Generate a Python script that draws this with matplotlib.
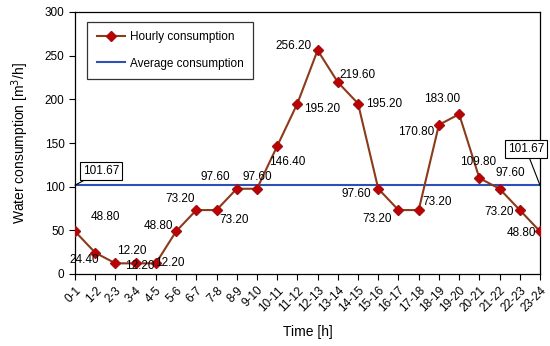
import matplotlib.pyplot as plt

plt.rcParams['font.family'] = ['Liberation Sans', 'DejaVu Sans']
plt.rcParams['font.size'] = 8.5

hours = ['0-1', '1-2', '2-3', '3-4', '4-5', '5-6', '6-7', '7-8', '8-9', '9-10',
         '10-11', '11-12', '12-13', '13-14', '14-15', '15-16', '16-17', '17-18',
         '18-19', '19-20', '20-21', '21-22', '22-23', '23-24']
hourly = [48.80, 24.40, 12.20, 12.20, 12.20, 48.80, 73.20, 73.20, 97.60, 97.60,
          146.40, 195.20, 256.20, 219.60, 195.20, 97.60, 73.20, 73.20,
          170.80, 183.00, 109.80, 97.60, 73.20, 48.80]
average = 101.67

# label offsets in pixels (dx, dy up)
offsets = [(30, 14), (-11, -7), (16, 12), (4, -3), (14, 0), (-18, 5), (-16, 11),
           (18, -10), (-21, 12), (0, 12), (10, -16), (25, -5), (-24, 4), (20, 7),
           (26, 0), (-22, -5), (-21, -9), (18, 8), (-23, -7), (-17, 15), (-1, 16),
           (11, 16), (-21, -2), (-19, -2)]

fig = plt.figure(figsize=(5.5, 3.46), dpi=100)
ax = fig.add_axes([75 / 550, 1 - 274 / 346, 465 / 550, 262 / 346])

x = list(range(len(hours)))
ax.plot(x, hourly, color='#8B3A1A', lw=1.5, marker='D', ms=5.5,
        mfc='#C00000', mec='#A01010', label='Hourly consumption', zorder=3)
ax.plot([0, len(hours) - 1], [average, average], color='#2E4FB5', lw=1.5,
        label='Average consumption', zorder=2)

for i, v in enumerate(hourly):
    dx, dy = offsets[i]
    ax.annotate('%.2f' % v, (i, v), xytext=(dx * 0.72, dy * 0.72),
                textcoords='offset points', ha='center', va='center', zorder=4)

box = dict(boxstyle='square,pad=0.25', fc='white', ec='black', lw=0.8)
ax.annotate('%.2f' % average, (0, average), xytext=(26 * 0.72, 14 * 0.72),
            textcoords='offset points', ha='center', va='center', bbox=box,
            arrowprops=dict(arrowstyle='-', color='black', lw=0.8,
                            shrinkA=0, shrinkB=0))
ax.annotate('%.2f' % average, (len(hours) - 1, average), xytext=(-14 * 0.72, 36 * 0.72),
            textcoords='offset points', ha='center', va='center', bbox=box,
            arrowprops=dict(arrowstyle='-', color='black', lw=0.8,
                            shrinkA=0, shrinkB=0))

ax.set_xlim(0, len(hours) - 1)
ax.set_ylim(0, 300)
ax.set_yticks(range(0, 301, 50))
ax.set_xticks(x)
ax.set_xticklabels(hours, rotation=45, ha='right', rotation_mode='anchor')
ax.tick_params(direction='out', length=4, width=0.8, labelsize=8.5)
for s in ax.spines.values():
    s.set_linewidth(0.9)

ax.set_xlabel('Time [h]', fontsize=10, labelpad=8)
ax.set_ylabel('Water consumption [m$^3$/h]', fontsize=10, labelpad=10)

leg = ax.legend(loc='upper left', bbox_to_anchor=(0.026, 0.962), frameon=True,
                fancybox=False, edgecolor='black', fontsize=8.5,
                borderaxespad=0, handlelength=2.4, handletextpad=0.4,
                labelspacing=1.2, borderpad=0.8)
leg.get_frame().set_linewidth(0.9)

fig.savefig('out.png', dpi=100)
